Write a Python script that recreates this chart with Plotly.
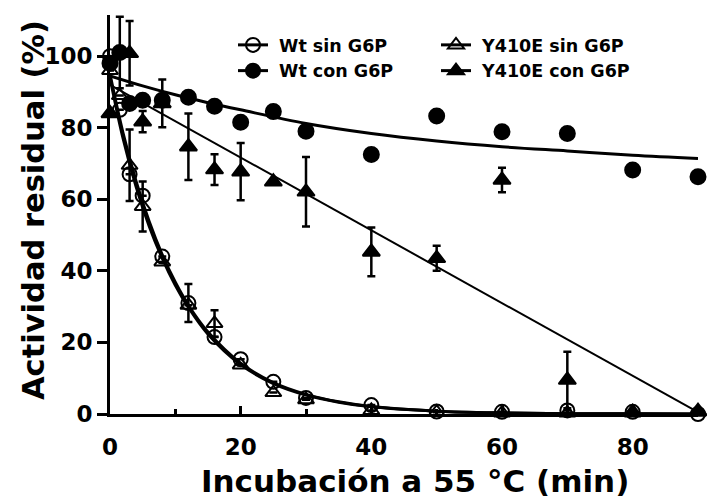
import plotly.graph_objects as go

# ---- data ----
tiempo = [0, 1.5, 3, 5, 8, 12, 16, 20, 25, 30, 40, 50, 60, 70, 80, 90]

wt_sin = [100, 85, 67, 61, 44, 31, 21.5, 15.3, 9, 4.5, 2.5, 0.7, 0.6, 1.0, 0.6, 0]
wt_sin_err = [None, None, None, None, None, 5.3, None, None, None, None, None, None, None, None, None, None]

wt_con = [98, 101, 86.8, 87.7, 87.7, 88.5, 86, 81.5, 84.5, 79, 72.5, 83.3, 78.9, 78.4, 68.2, 66.3]
wt_con_err = [None, 10, None, None, None, None, None, None, None, None, None, None, None, None, None, None]

y410e_sin = [96, 89, 69.5, 58, 42.5, 30.4, 25.3, 13.7, 6, 4, 1, 0.5, 0.3, 0.3, 0.3, 0.5]
y410e_sin_err = [None, None, 10, 7, None, None, 3.7, None, None, None, None, None, None, None, None, None]

y410e_con = [84, None, 100.8, 81.7, 86.8, 74.7, 68.3, 67.7, 64.9, 62.1, 45.3, 43.5, 65.4, 9.5, 0.5, 0.8]
y410e_con_err = [None, None, 9, 3, 6.7, 9.3, 4.3, 8, None, 9.7, 6.8, 3.5, 3.4, 7.9, None, None]

# fitted curves
fit_t = [0, 2, 4, 6, 8, 10, 12, 15, 20, 25, 30, 35, 40, 50, 60, 70, 80, 90]
fit_wt_sin = [95, 78.5, 65, 53.8, 44.5, 36.8, 30.4, 22.9, 14.2, 8.8, 5.5, 3.4, 2.1, 0.8, 0.3, 0.1, 0.05, 0.02]
fit_y410e_sin = [94, 77, 63.5, 52.5, 43.5, 36, 29.8, 22.3, 13.8, 8.5, 5.3, 3.3, 2.0, 0.8, 0.3, 0.1, 0.05, 0.02]
fit_con_t = [0, 5, 10, 15, 20, 30, 40, 50, 60, 70, 80, 90]
fit_wt_con = [94.5, 91.7, 89.2, 87.0, 85.0, 81.2, 78.4, 76.3, 74.7, 73.5, 72.3, 71.4]
lin_t = [0, 90]
fit_y410e_con = [92, 0.5]

x_ticks = [0, 20, 40, 60, 80]
x_minor = [10, 30, 50, 70]
y_ticks = [0, 20, 40, 60, 80, 100]

names = ["Wt sin G6P", "Wt con G6P", "Y410E sin G6P", "Y410E con G6P"]

BLACK = "black"
fig = go.Figure()

# fit curves
fig.add_trace(go.Scatter(x=fit_t, y=fit_wt_sin, mode="lines", line=dict(color=BLACK, width=3, shape="spline"),
                         showlegend=False, cliponaxis=False, hoverinfo="skip"))
fig.add_trace(go.Scatter(x=fit_t, y=fit_y410e_sin, mode="lines", line=dict(color=BLACK, width=3, shape="spline"),
                         showlegend=False, cliponaxis=False, hoverinfo="skip"))
fig.add_trace(go.Scatter(x=fit_con_t, y=fit_wt_con, mode="lines", line=dict(color=BLACK, width=3, shape="spline"),
                         showlegend=False, cliponaxis=False, hoverinfo="skip"))
fig.add_trace(go.Scatter(x=lin_t, y=fit_y410e_con, mode="lines", line=dict(color=BLACK, width=2),
                         showlegend=False, cliponaxis=False, hoverinfo="skip"))

def err(a):
    return dict(type="data", array=a, symmetric=True, color=BLACK, thickness=2.5, width=4)

series = [
    (wt_sin, wt_sin_err, "circle-open", 14),
    (wt_con, wt_con_err, "circle", 15),
    (y410e_sin, y410e_sin_err, "triangle-up-open", 14),
    (y410e_con, y410e_con_err, "triangle-up", 15),
]
for (vals, e, sym, sz), nm in zip(series, names):
    fig.add_trace(go.Scatter(x=tiempo, y=vals, mode="markers", name=nm, showlegend=False,
                             error_y=err(e), cliponaxis=False,
                             marker=dict(symbol=sym, size=sz, color=BLACK,
                                         line=dict(color=BLACK, width=2))))

# legend-only entries
for (vals, e, sym, sz), nm, lg in zip(series, names, ["legend", "legend", "legend2", "legend2"]):
    fig.add_trace(go.Scatter(x=[None], y=[None], mode="lines+markers", name="\u00a0" + nm, legend=lg,
                             line=dict(color=BLACK, width=3),
                             marker=dict(symbol=sym, size=14, color=BLACK,
                                         line=dict(color=BLACK, width=2))))

W, H = 707, 502
L, R, T, B = 110, 9, 15, 88
pw, ph = W - L - R, H - T - B

def px_x(p):
    return (p - L) / pw

def px_y(p):
    return (H - B - p) / ph

legfont = dict(family="DejaVu Sans", size=17.5, color=BLACK, weight="bold")
fig.update_layout(
    width=W, height=H,
    margin=dict(l=L, r=R, t=T, b=B, pad=0),
    paper_bgcolor="white", plot_bgcolor="white",
    font=dict(family="DejaVu Sans", color=BLACK, weight="bold"),
    legend=dict(x=px_x(233), y=px_y(27), xanchor="left", yanchor="top", font=legfont,
                bgcolor="rgba(0,0,0,0)", tracegroupgap=0, itemwidth=30),
    legend2=dict(x=px_x(436), y=px_y(27), xanchor="left", yanchor="top", font=legfont,
                 bgcolor="rgba(0,0,0,0)", tracegroupgap=0, itemwidth=30),
    xaxis=dict(range=[0, 90], showline=True, linewidth=3, linecolor=BLACK, mirror=False,
               ticks="inside", ticklen=8, tickwidth=3, tickcolor=BLACK,
               tickvals=x_ticks, ticktext=[str(v) for v in x_ticks],
               minor=dict(tickvals=x_minor, ticks="inside", ticklen=5, tickwidth=3, tickcolor=BLACK),
               showgrid=False, zeroline=False, ticklabelstandoff=10,
               tickfont=dict(family="DejaVu Sans", size=23, color=BLACK, weight="bold")),
    yaxis=dict(range=[0, 111.5], showline=True, linewidth=3, linecolor=BLACK,
               ticks="outside", ticklen=10, tickwidth=3, tickcolor=BLACK,
               tickvals=y_ticks, ticktext=[str(v) for v in y_ticks],
               showgrid=False, zeroline=False, ticklabelstandoff=0,
               tickfont=dict(family="DejaVu Sans", size=23, color=BLACK, weight="bold")),
    annotations=[
        dict(text="Incubación a 55 °C (min)", xref="paper", yref="paper",
             x=px_x(415), y=px_y(481), xanchor="center", yanchor="middle", showarrow=False,
             font=dict(family="DejaVu Sans", size=31, color=BLACK, weight="bold")),
        dict(text="Actividad residual (%)", xref="paper", yref="paper", textangle=-90,
             x=px_x(33), y=px_y(210), xanchor="center", yanchor="middle", showarrow=False,
             font=dict(family="DejaVu Sans", size=30.5, color=BLACK, weight="bold")),
    ],
)

fig.write_html("out.html")
